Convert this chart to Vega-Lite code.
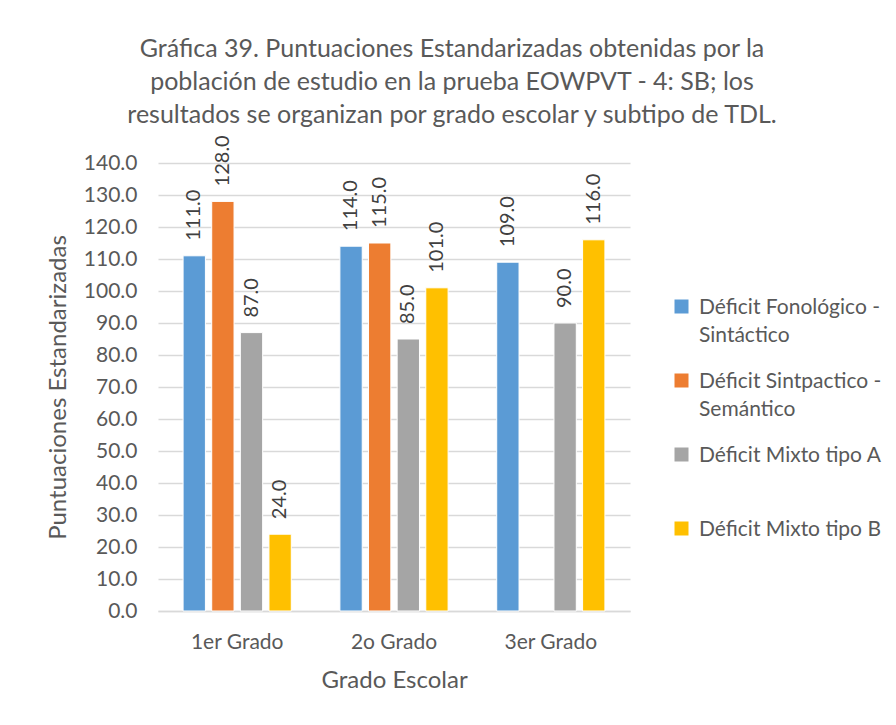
{
  "$schema": "https://vega.github.io/schema/vega-lite/v6.json",
  "width": 472,
  "height": 448,
  "autosize": "none",
  "padding": {"left": 158, "top": 163, "right": 266, "bottom": 114},
  "background": "white",
  "config": {
    "font": "Lato",
    "view": {"stroke": null},
    "style": {"guide-label": {"lineHeight": 28}}
  },
  "title": {
    "text": ["Gráfica 39. Puntuaciones Estandarizadas obtenidas por la", "población de estudio en la prueba EOWPVT - 4: SB; los", "resultados se organizan por grado escolar y subtipo de TDL."],
    "fontSize": 25,
    "fontWeight": "normal",
    "color": "#595959",
    "lineHeight": 33,
    "anchor": "middle",
    "dx": 58,
    "offset": 7
  },
  "data": {
    "values": [
      {"grado": "1er Grado", "tipo": "Déficit Fonológico - Sintáctico", "valor": 111},
      {"grado": "1er Grado", "tipo": "Déficit Sintpactico - Semántico", "valor": 128},
      {"grado": "1er Grado", "tipo": "Déficit Mixto tipo A", "valor": 87},
      {"grado": "1er Grado", "tipo": "Déficit Mixto tipo B", "valor": 24},
      {"grado": "2o Grado", "tipo": "Déficit Fonológico - Sintáctico", "valor": 114},
      {"grado": "2o Grado", "tipo": "Déficit Sintpactico - Semántico", "valor": 115},
      {"grado": "2o Grado", "tipo": "Déficit Mixto tipo A", "valor": 85},
      {"grado": "2o Grado", "tipo": "Déficit Mixto tipo B", "valor": 101},
      {"grado": "3er Grado", "tipo": "Déficit Fonológico - Sintáctico", "valor": 109},
      {"grado": "3er Grado", "tipo": "Déficit Mixto tipo A", "valor": 90},
      {"grado": "3er Grado", "tipo": "Déficit Mixto tipo B", "valor": 116}
    ]
  },
  "encoding": {
    "x": {
      "field": "grado",
      "type": "nominal",
      "sort": ["1er Grado", "2o Grado", "3er Grado"],
      "scale": {"paddingInner": 0.31, "paddingOuter": 0.16},
      "axis": {
        "title": "Grado Escolar",
        "labelAngle": 0,
        "labelFontSize": 21,
        "labelColor": "#595959",
        "labelPadding": 20,
        "ticks": false,
        "domainColor": "#d9d9d9",
        "domainWidth": 1.5,
        "titleFontSize": 24,
        "titleFontWeight": "normal",
        "titleColor": "#595959",
        "titlePadding": 16
      }
    },
    "xOffset": {
      "field": "tipo",
      "type": "nominal",
      "sort": ["Déficit Fonológico - Sintáctico", "Déficit Sintpactico - Semántico", "Déficit Mixto tipo A", "Déficit Mixto tipo B"],
      "scale": {"domain": ["Déficit Fonológico - Sintáctico", "Déficit Sintpactico - Semántico", "Déficit Mixto tipo A", "Déficit Mixto tipo B"], "paddingInner": 0.22, "paddingOuter": 0}
    },
    "y": {
      "field": "valor",
      "type": "quantitative",
      "scale": {"domain": [0, 140], "nice": false},
      "axis": {
        "title": "Puntuaciones Estandarizadas",
        "values": [0, 10, 20, 30, 40, 50, 60, 70, 80, 90, 100, 110, 120, 130, 140],
        "format": ".1f",
        "labelFontSize": 21,
        "labelColor": "#595959",
        "labelPadding": 21,
        "ticks": false,
        "domain": false,
        "gridColor": "#d9d9d9",
        "gridWidth": 1.5,
        "titleFontSize": 24,
        "titleFontWeight": "normal",
        "titleColor": "#595959",
        "titlePadding": 13
      }
    }
  },
  "layer": [
    {
      "mark": {"type": "bar", "stroke": "white", "strokeWidth": 1},
      "encoding": {
        "color": {
          "field": "tipo",
          "type": "nominal",
          "scale": {
            "domain": ["Déficit Fonológico - Sintáctico", "Déficit Sintpactico - Semántico", "Déficit Mixto tipo A", "Déficit Mixto tipo B"],
            "range": ["#5B9BD5", "#ED7D31", "#A5A5A5", "#FFC000"]
          },
          "legend": {
            "title": null,
            "orient": "none",
            "legendX": 513,
            "legendY": 140,
            "symbolType": "M-1,-2H1V0H-1Z",
            "symbolSize": 196,
            "symbolStrokeWidth": 0,
            "labelFontSize": 21,
            "labelColor": "#595959",
            "labelBaseline": "alphabetic",
            "labelOffset": 7,
            "labelLimit": 300,
            "rowPadding": 24,
            "labelExpr": "datum.label == 'Déficit Fonológico - Sintáctico' ? ['Déficit Fonológico -', 'Sintáctico'] : datum.label == 'Déficit Sintpactico - Semántico' ? ['Déficit Sintpactico -', 'Semántico'] : [datum.label, ' ']"
          }
        }
      }
    },
    {
      "mark": {"type": "text", "angle": 270, "align": "left", "baseline": "middle", "dx": 15, "fontSize": 20, "color": "#404040"},
      "encoding": {
        "text": {"field": "valor", "type": "quantitative", "format": ".1f"}
      }
    }
  ]
}
